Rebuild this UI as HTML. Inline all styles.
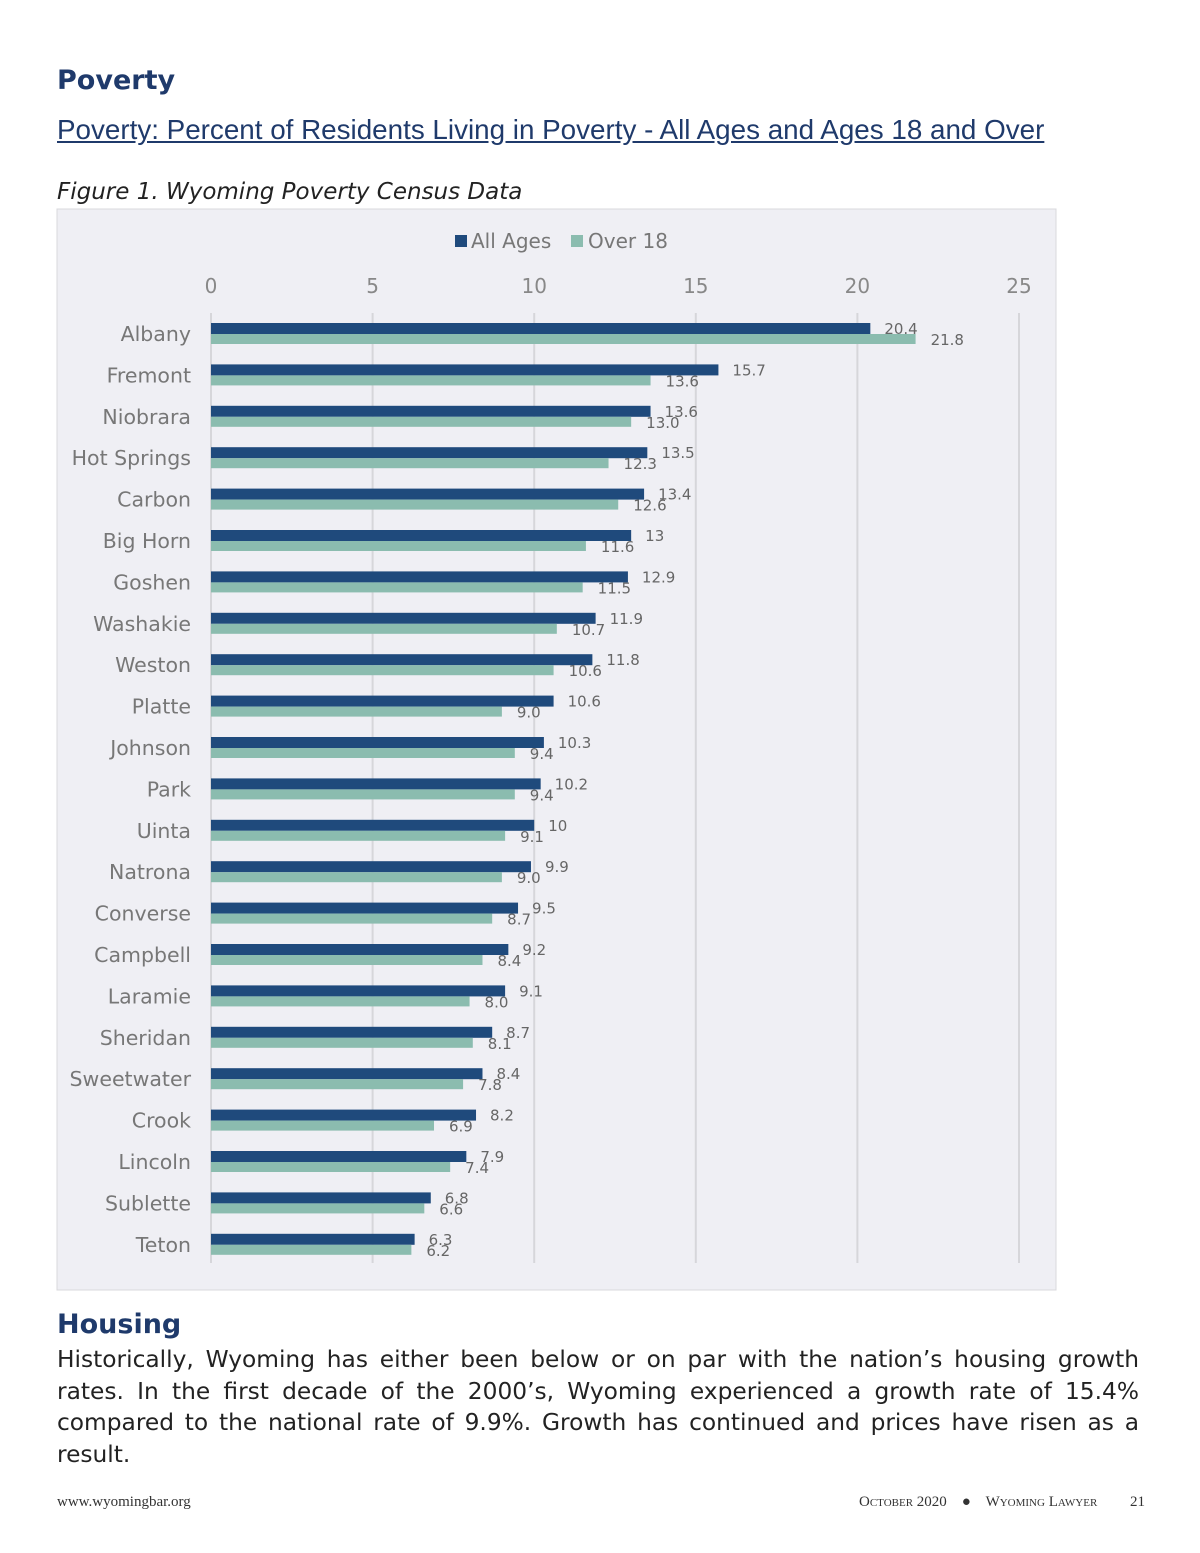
<!DOCTYPE html>
<html><head><meta charset="utf-8">
<style>
body{margin:0;background:#fff;width:1200px;height:1553px;position:relative;font-family:"DejaVu Sans","Liberation Sans",sans-serif;overflow:hidden}
.abs{position:absolute}
h1{margin:0;font-family:"DejaVu Sans",sans-serif;font-weight:bold;color:#1f3a6b;font-size:27px}
</style></head><body>
<h1 class="abs" style="left:57px;top:65px">Poverty</h1>
<div class="abs" style="left:57px;top:114px;font-family:'Liberation Sans',sans-serif;font-size:27.8px;color:#1f3a6b;text-decoration:underline;white-space:nowrap">Poverty: Percent of Residents Living in Poverty - All Ages and Ages 18 and Over</div>
<div class="abs" style="left:57px;top:179px;font-size:23px;font-style:italic;color:#222;white-space:nowrap">Figure 1. Wyoming Poverty Census Data</div>
<svg class="abs" style="left:0;top:0" width="1200" height="1300" id="chart">
<rect x="57" y="209" width="999" height="1081" fill="#efeff4" stroke="#d8d8dc"/>
<g id="legend">
<rect x="455" y="235" width="12" height="12" fill="#1f4a7c"/>
<text x="471" y="248" font-size="20" fill="#777">All Ages</text>
<rect x="571" y="235" width="12" height="12" fill="#8bbcaf"/>
<text x="588" y="248" font-size="20" fill="#777">Over 18</text>
</g>
<g id="g"></g>
</svg>
<div class="abs" style="left:57px;top:1309px">
<h1>Housing</h1>
</div>
<div class="abs" style="left:57px;top:1344px;width:1082px;font-size:23.3px;line-height:31.5px;text-align:justify;color:#222">Historically, Wyoming has either been below or on par with the nation’s housing growth rates. In the first decade of the 2000’s, Wyoming experienced a growth rate of 15.4% compared to the national rate of 9.9%. Growth has continued and prices have risen as a result.</div>
<div class="abs" style="left:57px;top:1494px;font-family:'Liberation Serif',serif;font-size:15px;color:#333">www.wyomingbar.org</div>
<div class="abs" style="left:859px;top:1494px;font-family:'Liberation Serif',serif;font-size:15px;color:#333;font-variant:small-caps;white-space:nowrap">October 2020 &nbsp;&nbsp;&nbsp;●&nbsp;&nbsp;&nbsp; Wyoming Lawyer</div>
<div class="abs" style="left:1130px;top:1494px;font-family:'Liberation Serif',serif;font-size:15px;color:#333">21</div>
<script>
const categories=["Albany","Fremont","Niobrara","Hot Springs","Carbon","Big Horn","Goshen","Washakie","Weston","Platte","Johnson","Park","Uinta","Natrona","Converse","Campbell","Laramie","Sheridan","Sweetwater","Crook","Lincoln","Sublette","Teton"];
const allAges=[20.4,15.7,13.6,13.5,13.4,13,12.9,11.9,11.8,10.6,10.3,10.2,10,9.9,9.5,9.2,9.1,8.7,8.4,8.2,7.9,6.8,6.3];
const allAgesLabels=["20.4","15.7","13.6","13.5","13.4","13","12.9","11.9","11.8","10.6","10.3","10.2","10","9.9","9.5","9.2","9.1","8.7","8.4","8.2","7.9","6.8","6.3"];
const over18=[21.8,13.6,13.0,12.3,12.6,11.6,11.5,10.7,10.6,9.0,9.4,9.4,9.1,9.0,8.7,8.4,8.0,8.1,7.8,6.9,7.4,6.6,6.2];
const over18Labels=["21.8","13.6","13.0","12.3","12.6","11.6","11.5","10.7","10.6","9.0","9.4","9.4","9.1","9.0","8.7","8.4","8.0","8.1","7.8","6.9","7.4","6.6","6.2"];
const ticks=[0,5,10,15,20,25];
const NS="http://www.w3.org/2000/svg";
const g=document.getElementById('g');
const x=v=>211+v*32.32;
const rowY=i=>323+i*41.4;
function mk(t,a,txt){const e=document.createElementNS(NS,t);for(const k in a)e.setAttribute(k,a[k]);if(txt!=null)e.textContent=txt;g.appendChild(e);return e;}
ticks.forEach(t=>{
 const l=mk('line',{x1:x(t),x2:x(t),y1:313,y2:1263,stroke:'#d6d6da','stroke-width':2});
 
 
 const tx=mk('text',{x:x(t),y:293,'font-size':20,fill:'#888','text-anchor':'middle'},String(t));
 
 
});
categories.forEach((c,i)=>{
 const y=rowY(i);
 const lab=mk('text',{x:191,y:y+18,'font-size':20.5,fill:'#777','text-anchor':'end'},c);
 
 
 const b1=mk('rect',{x:x(0),y:y,width:x(allAges[i])-x(0),height:11,fill:'#1f4a7c'});
 
 
 const b2=mk('rect',{x:x(0),y:y+11,width:x(over18[i])-x(0),height:10,fill:'#8bbcaf'});
 
 
 const t1=mk('text',{x:x(allAges[i])+14,y:y+11,'font-size':15,fill:'#666'},allAgesLabels[i]);
 
 
 const t2=mk('text',{x:x(over18[i])+15,y:y+22,'font-size':15,fill:'#666'},over18Labels[i]);
 
 
});
</script>
</body></html>
